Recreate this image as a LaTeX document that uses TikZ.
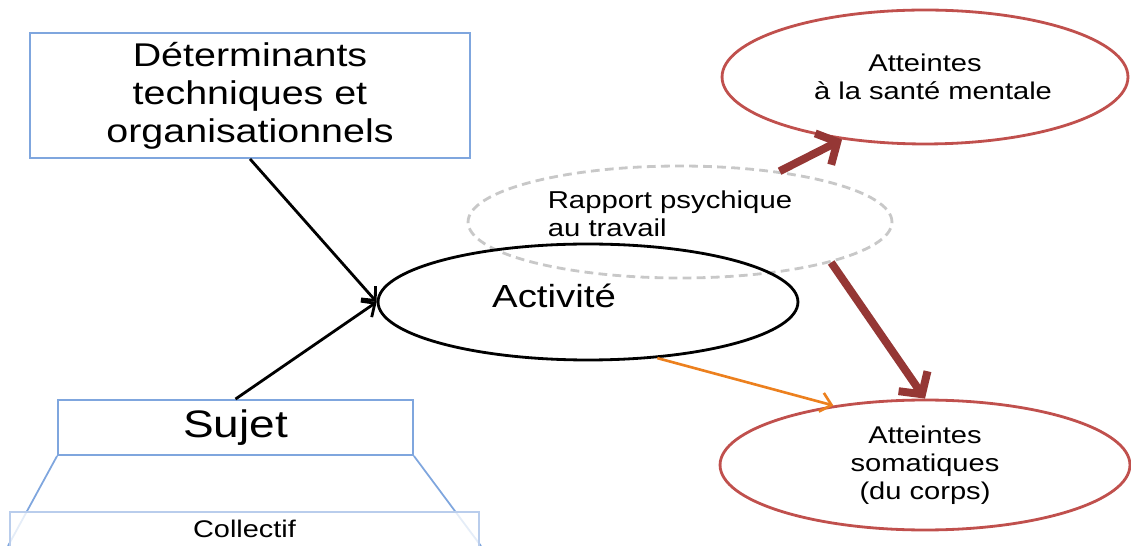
\documentclass[tikz,border=0pt]{standalone}
\usepackage{fontspec}
\setmainfont{Liberation Sans}[FakeStretch=1.2]
\usepackage{tikz}
\usetikzlibrary{arrows.meta,shapes.geometric}

\definecolor{boxblue}{RGB}{127,166,222}
\definecolor{paleblue}{RGB}{185,205,236}
\definecolor{atred}{RGB}{192,80,77}
\definecolor{darkred}{RGB}{149,55,53}
\definecolor{actorange}{RGB}{236,128,30}
\definecolor{dashgray}{RGB}{200,200,200}

\begin{document}
\begin{tikzpicture}[x=0.02cm,y=-0.02cm
	,>={Straight Barb[length=6pt,width=11pt]}
	,semithick]
  \tikzstyle{blue box}=[rectangle,draw=boxblue,line width=1.1pt,inner sep=0pt,align=center]
  \tikzstyle{oval}=[ellipse,inner sep=0pt,align=center]
  \tikzstyle{atteinte}=[oval,draw=atred,line width=1.6pt
    ,font=\fontsize{13.8pt}{15.9pt}\selectfont]
  \tikzstyle{mental}=[-{Straight Barb[length=9pt,width=20pt]},draw=darkred,line width=4.5pt]

  \useasboundingbox (0,0) rectangle (1131,546);

  % left column
  \node[blue box,minimum width=8.8cm,minimum height=2.5cm
    ,font=\fontsize{18.7pt}{21.6pt}\selectfont]
    (det) at (250,95.5) {D\'eterminants\\techniques et\\organisationnels};
  \node[blue box,minimum width=7.1cm,minimum height=1.1cm
    ,font=\fontsize{21.8pt}{26pt}\selectfont]
    (sujet) at (235.5,427.5) {Sujet};
  \coordinate (bl) at (8,546);
  \coordinate (br) at (481,546);
  \draw[boxblue,line width=1pt] (sujet.south west) -- (bl);
  \draw[boxblue,line width=1pt] (sujet.south east) -- (br);
  \node[blue box,draw=paleblue,fill=white,fill opacity=0.8,text opacity=1
    ,anchor=north,minimum width=9.38cm,text height=0.52cm,text depth=1cm
    ,font=\fontsize{13.7pt}{16pt}\selectfont]
    (coll) at (244.5,511) {Collectif};

  % middle
  \node[oval,draw=dashgray,dashed,line width=1.6pt
    ,dash pattern=on 5pt off 3pt
    ,minimum width=8.48cm,minimum height=2.24cm]
    (rap) at (680,222) {};
  \node[align=left,font=\fontsize{13.9pt}{15.9pt}\selectfont]
    (raptxt) at (670,214) {Rapport psychique\\au travail};
  \node[oval,draw=black,line width=1.6pt
    ,minimum width=8.4cm,minimum height=2.32cm]
    (act) at (588,302) {};
  \node[font=\fontsize{18.2pt}{21pt}\selectfont]
    (acttxt) at (554,296) {Activit\'e};

  % right column
  \node[atteinte,minimum width=8.12cm,minimum height=2.68cm]
    (ment) at (925,77) {Atteintes\\\ \ \`a la sant\'e mentale};
  \node[atteinte,minimum width=8.2cm,minimum height=2.6cm]
    (som) at (925,465) {Atteintes\\somatiques\\(du corps)};

  % arrows
  \draw [->,line width=1.6pt] (det.south)   -- (act.west);
  \draw [->,line width=1.6pt] (sujet.north) -- (act.west);
  \draw [mental] (rap.27)  -- (ment.217);
  \draw [mental] (rap.-15) -- (som.north);
  \draw [->,actorange,line width=1.5pt] (act.-39) -- (som.147);
\end{tikzpicture}
\end{document}
